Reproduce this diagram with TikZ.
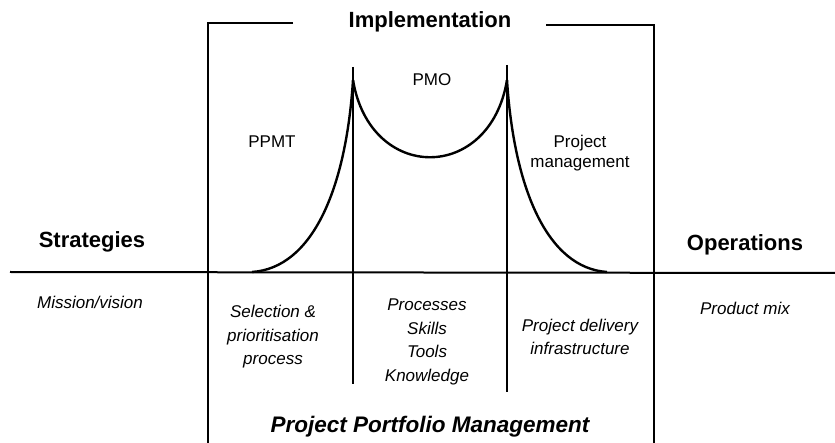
\documentclass[tikz,border=0pt]{standalone}
\usepackage{fontspec}
\setmainfont{Liberation Sans}
\begin{document}
\begin{tikzpicture}[x=1pt,y=-1pt,
  head/.style={font=\fontsize{22}{26}\selectfont\bfseries, inner sep=0pt},
  lbl/.style={font=\fontsize{17}{20}\selectfont, inner sep=0pt, align=center},
  itl/.style={font=\fontsize{17}{23.5}\selectfont\itshape, inner sep=0pt, align=center},
  frameline/.style={line width=1.4pt},
  axisline/.style={line width=2pt},
  curveline/.style={line width=2.4pt},
  divline/.style={line width=2.2pt}]
\useasboundingbox (0,0) rectangle (835,443);
% coordinates
\coordinate (fTL) at (208,23);
\coordinate (fTLend) at (293,23);
\coordinate (fTR) at (654,25);
\coordinate (fTRend) at (546,25);
\coordinate (fBL) at (208,443);
\coordinate (fBR) at (654,443);
\coordinate (axL) at (10,272);
\coordinate (axR) at (835,273);
\coordinate (vLt) at (353,67);
\coordinate (vLb) at (353,384);
\coordinate (vRt) at (507,65);
\coordinate (vRb) at (507,392);
\coordinate (jL) at (353,80);
\coordinate (jR) at (507,80);
\coordinate (cL) at (252,272);
\coordinate (cR) at (607,272);
% frame
\draw[frameline] (fTLend) -- (fTL) -- (fBL);
\draw[frameline] (fTRend) -- (fTR) -- (fBR);
% axis
\draw[axisline] (axL) -- (axR);
% dividers
\draw[divline] (vLt) -- (vLb);
\draw[divline] (vRt) -- (vRb);
% curves
\draw[curveline] (cL) .. controls (312,268) and (346,190) .. (jL);
\draw[curveline] (jL) .. controls (370,183) and (490,183) .. (jR);
\draw[curveline] (jR) .. controls (514,190) and (548,268) .. (cR);
% texts
\node[head] (impl) at (430,22) {Implementation};
\node[lbl] (pmo) at (432,80) {PMO};
\node[lbl] (ppmt) at (272,142) {PPMT};
\node[lbl] (pm) at (580,153) {Project\\management};
\node[head] (strat) at (92,242) {Strategies};
\node[head] (ops) at (745,245) {Operations};
\node[itl] (mv) at (90,302) {Mission/vision};
\node[itl] (prod) at (745,308) {Product mix};
\node[itl] (sel) at (273,337) {Selection \&\\prioritisation\\process};
\node[itl] (proc) at (427,342) {Processes\\Skills\\Tools\\Knowledge};
\node[itl] (pdi) at (580,337) {Project delivery\\infrastructure};
\node[font=\fontsize{22.5}{26}\selectfont\bfseries\itshape, inner sep=0pt] (ppm) at (430,427) {Project Portfolio Management};
\end{tikzpicture}
\end{document}
